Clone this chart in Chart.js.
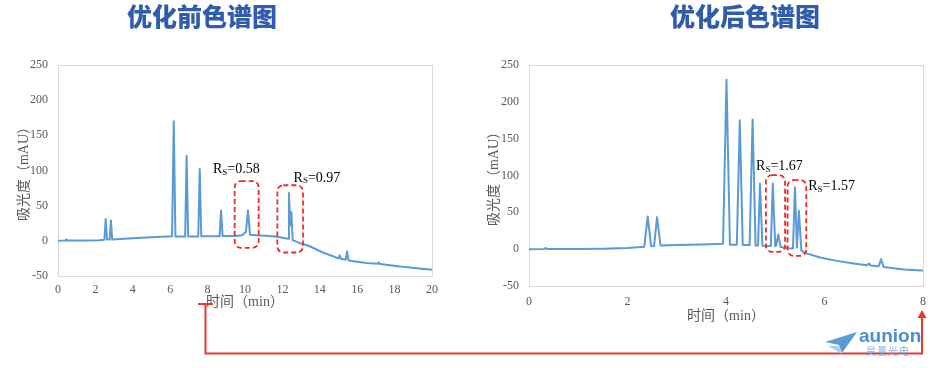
<!DOCTYPE html>
<html><head><meta charset="utf-8">
<script src="https://cdn.jsdelivr.net/npm/chart.js@4/dist/chart.umd.min.js"></script>
<style>
html,body{margin:0;padding:0;background:#fff;}
#wrap{position:relative;width:935px;height:368px;overflow:hidden;background:#fff;}
.title{position:absolute;top:0;font-family:"Noto Sans CJK SC";font-weight:900;font-size:25px;color:#2f5cab;line-height:30px;white-space:nowrap;transform:translateX(-50%);}
canvas{position:absolute;}
#ov{position:absolute;left:0;top:0;pointer-events:none;}
.logo1{position:absolute;left:859px;top:325px;font-family:"Liberation Sans",Arial,sans-serif;font-weight:bold;font-size:19px;color:#4a8fd6;line-height:22px;}
.logo2{position:absolute;left:866px;top:345px;font-family:"Noto Sans CJK SC";font-size:10px;color:#7fb2e5;line-height:12px;letter-spacing:1px;}
</style></head><body>
<div id="wrap">
<canvas id="c1" width="450" height="330" style="left:0;top:0"></canvas>
<canvas id="c2" width="465" height="340" style="left:470px;top:0"></canvas>
<div class="title" style="left:202px">优化前色谱图</div>
<div class="title" style="left:745px">优化后色谱图</div>
<svg id="ov" width="935" height="368">
  <path d="M198 304 H213 M205.5 304 V353.5 H922 V317" fill="none" stroke="#e53935" stroke-width="2"/>
  <polygon points="922,310 917.5,318 926.5,318" fill="#e53935"/>
  <polygon points="825,342 857,332 842,353 839,345" fill="#5b9bd5"/>
  <polygon points="828,346 839,346 842,354" fill="#a9d0f0"/>
</svg>
<div class="logo1">aunion</div>
<div class="logo2">昊量光电</div>
</div>
<script>
// ---- data ----
const beforeTime = [0,0.40,0.43,0.46,1.5,2.2,2.48,2.55,2.62,2.76,2.83,2.90,4.0,5.0,6.1,6.19,6.28,6.80,6.88,6.96,7.50,7.58,7.66,8.64,8.72,8.80,9.5,9.85,10.05,10.16,10.27,10.6,11.1,11.6,12.0,12.3,12.35,12.42,12.48,12.55,12.9,13.4,13.8,14.2,14.7,15.0,15.06,15.12,15.38,15.46,15.54,15.8,16.5,17.10,17.15,17.22,18.3,19.2,20];
const beforeAbs  = [0,0.3,1.8,0.3,0.5,1,1.5,31,1.8,1.8,29,1.8,3.5,5,6.5,170,6,6,121,6.2,6.2,102,6.5,6.5,43,6.8,6.8,8,13,43,8.5,8,7.2,6,4.5,3,68,22,41,1,-3,-7,-12,-17,-22,-25,-20.5,-25.5,-27,-15,-28,-29,-31.4,-32.5,-30.5,-33,-36.6,-39,-41];

const afterTime = [0,0.31,0.34,0.37,1.0,1.5,2.0,2.34,2.41,2.48,2.54,2.60,2.67,3.0,3.5,3.94,4.01,4.08,4.22,4.28,4.34,4.48,4.54,4.60,4.65,4.69,4.74,4.91,4.95,5.00,5.02,5.06,5.11,5.3,5.36,5.40,5.44,5.48,5.53,5.6,5.91,6.25,6.59,6.86,6.90,6.94,7.10,7.15,7.20,7.61,8];
const afterAbs  = [0,0.3,1.6,0.3,0.3,0.6,1.5,3.2,44.5,4,4.2,43.5,5,5.5,6.5,7.5,230,6,6,175,5.8,5.8,176,5,5,89,4.6,4.2,89,4,5,20,3,1,1,84,2,52,-2,-5,-11.3,-15.9,-19.5,-21.8,-19.5,-22.2,-23.3,-13.6,-24.3,-27.6,-29];

const yTickValues = [-50,0,50,100,150,200,250];
const beforeXTickValues = [0,2,4,6,8,10,12,14,16,18,20];
const afterXTickValues = [0,2,4,6,8];

// dashed boxes: [xMin, xMax, yMin, yMax] in data units
const beforeBoxes = [[9.45,10.73,-10,85],[11.73,13.1,-16.6,79]];
const afterBoxes  = [[4.81,5.20,-3.6,100.5],[5.25,5.63,-9,93.8]];
// resolution labels: [x, y, value]
const beforeRs = [[8.29,101,'0.58'],[12.6,89.4,'0.97']];
const afterRs  = [[4.61,112,'1.67'],[5.67,84.7,'1.57']];

const AXIS_FONT = '"Liberation Serif","Noto Sans CJK SC",serif';
const GRAY = '#595959';

const decorPlugin = {
  id: 'decor',
  beforeDatasetsDraw(chart){
    const a = chart.chartArea, ctx = chart.ctx;
    ctx.save();
    ctx.strokeStyle = '#d9d9d9'; ctx.lineWidth = 1;
    ctx.strokeRect(Math.round(a.left)+0.5, Math.round(a.top)+0.5, Math.round(a.right-a.left), Math.round(a.bottom-a.top));
    ctx.restore();
  },
  afterDatasetsDraw(chart, args, opts){
    const ctx = chart.ctx, xs = chart.scales.x, ys = chart.scales.y;
    ctx.save();
    ctx.strokeStyle = '#ee2a24'; ctx.lineWidth = 1.8; ctx.setLineDash([5,3]);
    (opts.boxes||[]).forEach(b => {
      const x1 = xs.getPixelForValue(b[0]), x2 = xs.getPixelForValue(b[1]);
      const y1 = ys.getPixelForValue(b[3]), y2 = ys.getPixelForValue(b[2]);
      ctx.beginPath();
      ctx.roundRect(x1, y1, x2-x1, y2-y1, 6);
      ctx.stroke();
    });
    ctx.setLineDash([]);
    ctx.fillStyle = '#000';
    ctx.textBaseline = 'middle'; ctx.textAlign = 'left';
    (opts.labels||[]).forEach(l => {
      let x = xs.getPixelForValue(l[0]); const y = ys.getPixelForValue(l[1]);
      ctx.font = '14px "Liberation Serif", serif';
      ctx.fillText('R', x, y); x += ctx.measureText('R').width;
      ctx.font = '9px "Liberation Serif", serif';
      ctx.fillText('S', x, y+3); x += ctx.measureText('S').width;
      ctx.font = '14px "Liberation Serif", serif';
      ctx.fillText('=' + l[2], x, y);
    });
    ctx.restore();
  }
};

function makeChart(id, time, abs, xTicks, g, boxes, labels){
  return new Chart(document.getElementById(id), {
    type: 'line',
    data: { datasets: [{
      data: time.map((t,i)=>({x:t, y:abs[i]})),
      borderColor: '#5b9bd5', borderWidth: 2, pointRadius: 0, tension: 0,
      borderJoinStyle: 'round', fill: false
    }]},
    options: {
      responsive: false, animation: false, devicePixelRatio: 1,
      layout: { padding: { left: 0, top: 65, right: g.padRight, bottom: g.padBottom } },
      plugins: { legend: {display:false}, tooltip: {enabled:false}, decor: {boxes, labels} },
      scales: {
        x: {
          type: 'linear', min: xTicks[0], max: xTicks[xTicks.length-1],
          afterBuildTicks: s => { s.ticks = xTicks.map(v=>({value:v})); },
          afterFit: s => { s.height = g.xHeight; },
          grid: { display: false, drawTicks: false }, border: { display: false },
          ticks: { font: { family: AXIS_FONT, size: 12 }, color: GRAY, padding: g.xTickPad, maxRotation: 0, autoSkip: false },
          title: { display: true, text: '时间（min）', color: GRAY, font: { family: AXIS_FONT, size: 14, lineHeight: 1.2 }, padding: { top: 0, bottom: 5 } }
        },
        y: {
          type: 'linear', min: -50, max: 250,
          afterBuildTicks: s => { s.ticks = yTickValues.map(v=>({value:v})); },
          afterFit: s => { s.width = g.yWidth; },
          grid: { display: false, drawTicks: false }, border: { display: false },
          ticks: { font: { family: AXIS_FONT, size: 12 }, color: GRAY, padding: 10, autoSkip: false },
          title: { display: true, text: '吸光度（mAU）', color: GRAY, font: { family: AXIS_FONT, size: 14, lineHeight: 1.2 }, padding: { top: 15.6, bottom: 0 } }
        }
      }
    },
    plugins: [decorPlugin]
  });
}

makeChart('c1', beforeTime, beforeAbs, beforeXTickValues,
  { padRight: 18, padBottom: 14, xHeight: 40, xTickPad: 7, yWidth: 58 }, beforeBoxes, beforeRs);
makeChart('c2', afterTime, afterAbs, afterXTickValues,
  { padRight: 12, padBottom: 10, xHeight: 44, xTickPad: 9, yWidth: 59 }, afterBoxes, afterRs);
</script>
</body></html>
